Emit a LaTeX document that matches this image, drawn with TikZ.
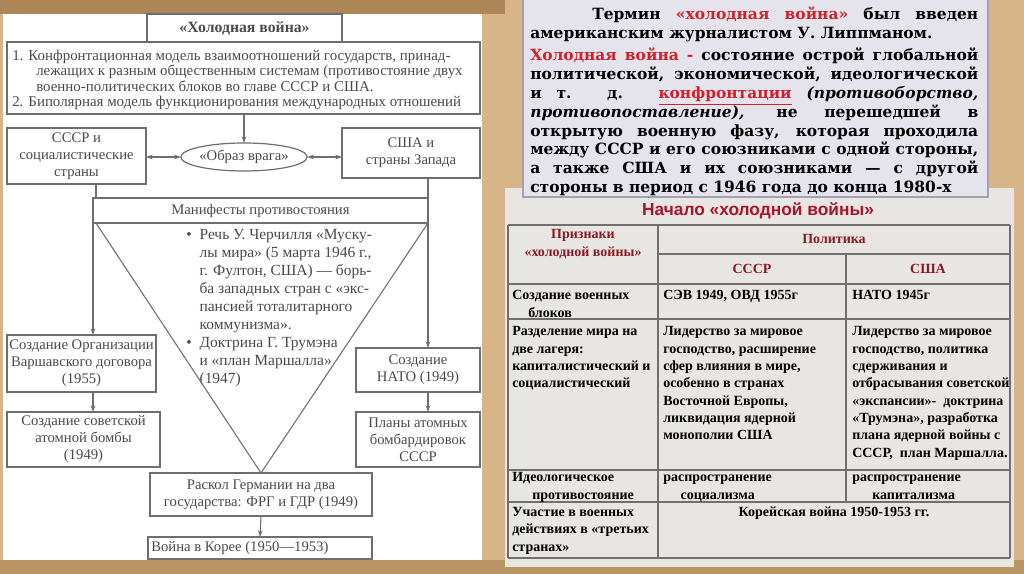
\documentclass[tikz,border=0pt]{standalone}
\usepackage{fontspec}
\setmainfont{Liberation Serif}
\newfontfamily\sansfam{Liberation Sans}
\newfontfamily\topfam{DejaVu Serif}
\usetikzlibrary{arrows.meta,shapes.geometric}
\definecolor{bgc}{HTML}{D8B588}
\definecolor{bgdark}{HTML}{AC8656}
\definecolor{boxc}{HTML}{6E6E6E}
\definecolor{txtc}{HTML}{4A4A4A}
\definecolor{lav}{HTML}{E5E3EC}
\definecolor{lavb}{HTML}{A3A1B0}
\definecolor{tblbg}{HTML}{E8E6E3}
\definecolor{gridc}{HTML}{6F6F6F}
\definecolor{hred}{HTML}{D0202A}
\definecolor{dred}{HTML}{8B1A22}
\definecolor{tred}{HTML}{A8142A}
\newcommand\fBox{\fontsize{11}{12.75}\selectfont}
\newcommand\fDef{\fontsize{11.2}{11.5}\selectfont}
\newcommand\fBul{\fontsize{11.6}{13.5}\selectfont}
\newcommand\fTop{\topfam\bfseries\fontsize{11.6}{14.25}\selectfont}
\newcommand\fTbl{\bfseries\fontsize{10.5}{13}\selectfont}
\newcommand\fTtl{\sansfam\bfseries\fontsize{13}{15}\selectfont}
\begin{document}
\begin{tikzpicture}[x=0.75pt,y=-0.75pt,
  box/.style={draw=boxc, line width=0.9pt, inner sep=0pt, outer sep=0pt, align=center, text=txtc, font=\fBox},
  arr/.style={draw=boxc, line width=0.8pt, -{Stealth[length=5pt,width=3.5pt]}},
  dbl/.style={draw=boxc, line width=0.8pt, {Stealth[length=5pt,width=3.5pt]}-{Stealth[length=5pt,width=3.5pt]}},
  ln/.style={draw=boxc, line width=0.8pt},
  toptxt/.style={anchor=base west, inner sep=0pt, font=\fTop, text=black},
  cell/.style={anchor=north west, inner sep=0pt, align=left, font=\fTbl, text=black},
  hcell/.style={anchor=center, inner sep=0pt, align=center, font=\fTbl, text=dred},
  grid/.style={draw=gridc, line width=0.8pt}]
\useasboundingbox (0,0) rectangle (1024,574);
% background
\fill[bgc] (0,0) rectangle (1024,574);
\fill[bgdark] (0,0) rectangle (505,14);
\fill[bgdark!70!bgc] (0,560) rectangle (1024,574);
\fill[white] (3,14) rectangle (482,560);

% ---------- left diagram ----------
\node[box, font=\fontsize{11.8}{13}\selectfont\bfseries, minimum width=146.25pt, minimum height=21pt] (title) at (244.5,28) {«Холодная война»};
\node[box, minimum width=354.75pt, minimum height=54pt] (def) at (243.5,78) {};
\node[anchor=west, inner sep=0pt, align=left, text=txtc, font=\fDef] (deftext) at (12,80)
 {1. Конфронтационная модель взаимоотношений государств, принад-\\
  \hspace*{18pt}лежащих к разным общественным системам (противостояние двух\\
  \hspace*{18pt}военно-политических блоков во главе СССР и США.\\
  2. Биполярная модель функционирования международных отношений};
\node[box, minimum width=104.25pt, minimum height=42pt] (ussr) at (76.5,156) {СССР и\\социалистические\\страны};
\node[box, ellipse, minimum width=84pt, minimum height=21pt] (enemy) at (244,157) {«Образ врага»};
\node[box, minimum width=103.5pt, minimum height=37.5pt] (usa) at (411,153) {США и\\страны Запада};
\node[box, minimum width=251.25pt, minimum height=18.75pt] (manifest) at (260.5,210.5) {Манифесты противостояния};
\node[box, minimum width=111.75pt, minimum height=42.75pt] (warsaw) at (81.5,363.5) {Создание Организации\\Варшавского договора\\(1955)};
\node[box, minimum width=114.75pt, minimum height=41.25pt] (bomb) at (83.5,439.5) {Создание советской\\атомной бомбы\\(1949)};
\node[box, minimum width=93pt, minimum height=33pt] (nato) at (418,370) {Создание\\НАТО (1949)};
\node[box, minimum width=93pt, minimum height=41.25pt] (plans) at (418,439.5) {Планы атомных\\бомбардировок\\СССР};
\node[box, minimum width=166.5pt, minimum height=32.25pt] (split) at (261,494.5) {Раскол Германии на два\\государства: ФРГ и ГДР (1949)};
\node[box, minimum width=168pt, minimum height=16.5pt] (korea) at (260,548) {\parbox{163pt}{Война в Корее (1950—1953)}};
\node[anchor=north west, inner sep=0pt, align=left, text=txtc, font=\fBul] (bullets) at (186,229)
 {\makebox[10pt][l]{•}Речь У. Черчилля «Муску-\\
  \hspace*{10pt}лы мира» (5 марта 1946 г.,\\
  \hspace*{10pt}г. Фултон, США) — борь-\\
  \hspace*{10pt}ба западных стран с «экс-\\
  \hspace*{10pt}пансией тоталитарного\\
  \hspace*{10pt}коммунизма».\\
  \makebox[10pt][l]{•}Доктрина Г. Трумэна\\
  \hspace*{10pt}и «план Маршалла»\\
  \hspace*{10pt}(1947)};

\coordinate (triL) at (96,223);
\coordinate (triR) at (428,223);
\coordinate (la) at (93,223);
% connectors
\draw[arr] (enemy.north |- def.south) -- (enemy.north);
\draw[dbl] (ussr.east |- enemy.west) -- (enemy.west);
\draw[dbl] (enemy.east) -- (enemy.east -| usa.west);
\draw[ln] (ussr.south -| triL) -- (manifest.north -| triL);
\draw[ln] (usa.south -| triR) -- (manifest.north -| triR);
\draw[ln] (triL) -- (split.north) -- (triR);
\draw[arr] (la) -- (la |- warsaw.north);
\draw[arr] (triR) -- (triR |- nato.north);
\draw[arr] (warsaw.south -| la) -- (bomb.north -| la);
\draw[arr] (nato.south -| triR) -- (plans.north -| triR);
\draw[arr] (split.south) -- (korea.north);

% ---------- right table ----------
\fill[tblbg] (505,188) rectangle (1014,567);
\node[font=\fTtl, text=tred, inner sep=0pt] (ttitle) at (758,211) {Начало «холодной войны»};
\draw[grid] (508,225) -- (1010,225);
\draw[grid] (658,254) -- (1010,254);
\draw[grid] (508,284) -- (1010,284);
\draw[grid] (508,319) -- (1010,319);
\draw[grid] (508,470) -- (1010,470);
\draw[grid] (508,502) -- (1010,502);
\draw[grid] (508,558) -- (1010,558);
\draw[grid] (508,225) -- (508,558);
\draw[grid] (658,225) -- (658,558);
\draw[grid] (846,254) -- (846,502);
\draw[grid] (1010,225) -- (1010,558);

\node[hcell] (h1) at (583,244) {Признаки\\«холодной войны»};
\node[hcell] (h2) at (834,239) {Политика};
\node[hcell] (h3) at (752,269) {СССР};
\node[hcell] (h4) at (928,269) {США};

\node[cell] (c11) at (512,287.5) {\strut Создание военных\\\hspace*{12pt}блоков};
\node[cell] (c12) at (663,287.5) {\strut СЭВ 1949, ОВД 1955г};
\node[cell] (c13) at (852,287.5) {\strut НАТО 1945г};
\node[cell] (c21) at (512,323.5) {\strut Разделение мира на\\две лагеря:\\капиталистический и\\социалистический};
\node[cell] (c22) at (663,323.5) {\strut Лидерство за мировое\\господство, расширение\\сфер влияния в мире,\\особенно в странах\\Восточной Европы,\\ликвидация ядерной\\монополии США};
\node[cell] (c23) at (852,323.5) {\strut Лидерство за мировое\\господство, политика\\сдерживания и\\отбрасывания советской\\«экспансии»-\ \ доктрина\\«Трумэна», разработка\\плана ядерной войны с\\СССР,\ \ план Маршалла.};
\node[cell] (c31) at (512,469.5) {\strut Идеологическое\\\hspace*{15pt}противостояние};
\node[cell] (c32) at (663,469.5) {\strut распространение\\\hspace*{13pt}социализма};
\node[cell] (c33) at (852,469.5) {\strut распространение\\\hspace*{15pt}капитализма};
\node[cell] (c41) at (512,504) {\strut Участие в военных\\действиях в «третьих\\странах»};
\node[hcell, text=black] (c42) at (834,513) {Корейская война 1950-1953 гг.};

% ---------- right top box ----------
\fill[lav, draw=lavb, line width=0.8pt] (523,-2) rectangle (988,197);
\node[toptxt] (t1) at (592,20) {\makebox[289.5pt][s]{Термин \textcolor{hred}{«холодная война»} был введен}};
\node[toptxt] (t2) at (530,39) {американским журналистом У. Липпманом.};
\node[toptxt] (t3) at (530,61) {\makebox[336pt][s]{\textcolor{hred}{Холодная война -} состояние острой глобальной}};
\node[toptxt] (t4) at (530,80) {\makebox[336pt][s]{политической, экономической, идеологической}};
\node[toptxt] (t5) at (530,99) {\makebox[336pt][s]{и т. д. \textcolor{hred}{\underline{конфронтации}} \textit{(противоборство,}}};
\node[toptxt] (t6) at (530,118) {\makebox[336pt][s]{\textit{противопоставление),} не перешедшей в}};
\node[toptxt] (t7) at (530,137) {\makebox[336pt][s]{открытую военную фазу, которая проходила}};
\node[toptxt] (t8) at (530,155) {\makebox[336pt][s]{между СССР и его союзниками с одной стороны,}};
\node[toptxt] (t9) at (530,174) {\makebox[336pt][s]{а также США и их союзниками — с другой}};
\node[toptxt] (t10) at (530,193) {стороны в период с 1946 года до конца 1980-х};
\end{tikzpicture}
\end{document}
